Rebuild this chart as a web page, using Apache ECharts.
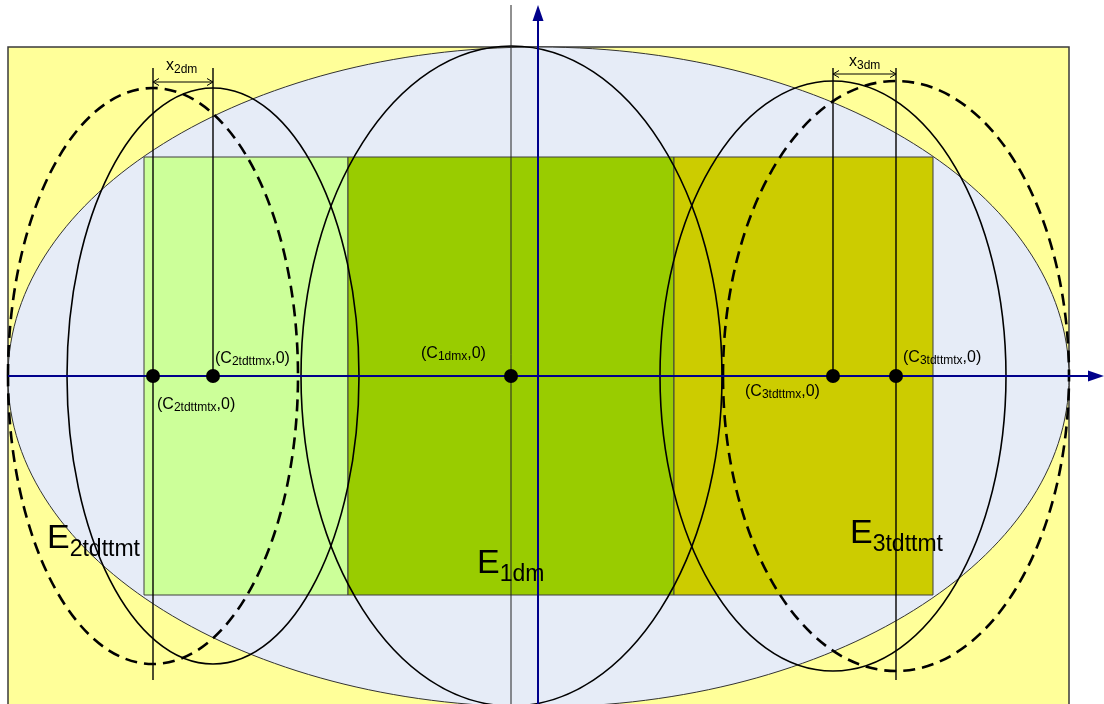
<!DOCTYPE html>
<html><head><meta charset="utf-8">
<script src="https://cdn.jsdelivr.net/npm/echarts/dist/echarts.min.js"></script>
<style>html,body{margin:0;padding:0;background:#fff}#c{width:1104px;height:704px}</style>
</head><body><div id="c"></div>
<script>
// ---- diagram data (drawing units: x to the right, y downward) ----
const frameRect = [[8, 47, 1069, 720]];
const regionRects = [[144, 157, 348, 595], [348, 157, 674, 595], [674, 157, 933, 595]];
const regionNames = ['E2 zone', 'E1dm zone', 'E3 zone'];
const outerEllipse = [[538.5, 377, 530.5, 330]];
const solidEllipses = [[511.5, 376, 210.5, 330], [213, 376, 146, 288], [833, 376, 173, 295]];
const dashedEllipses = [[153, 376, 145, 288], [896, 376, 173, 295]];
const centerPoints = [[153, 376], [213, 376], [511, 376], [833, 376], [896, 376]];
const guideLines = [[153, 68, 153, 680], [213, 68, 213, 376], [833, 68, 833, 376], [896, 68, 896, 680], [511, 5, 511, 704]];
const axisLines = [[8, 376, 1104, 376], [538, 704, 538, 5]];
const dimLines = [[153, 213, 82], [833, 896, 74]];
const dimLabels = [['x', '2dm'], ['x', '3dm']];
const dimLabelAnchors = [[166, 76], [849, 72]];
const pointLabels = [['(C', '2tdttmx', ',0)'], ['(C', '2tdttmtx', ',0)'], ['(C', '1dmx', ',0)'], ['(C', '3tdttmx', ',0)'], ['(C', '3tdttmtx', ',0)']];
const pointLabelAnchors = [[215, 368], [157, 414], [421, 363], [745, 401], [903, 367]];
const ellipseNames = [['E', '2tdttmt'], ['E', '1dm'], ['E', '3tdttmt']];
const ellipseNameAnchors = [[47, 561], [477, 586], [850, 556]];

// ---- styles ----
const FF = '"Liberation Sans", Arial, sans-serif';
const rectColors = ['#CCFF99', '#99CC00', '#CCCC00'];
const AXIS = '#00008B';

function ellipseRender(style) {
  return function (params, api) {
    const c = api.coord([api.value(0), api.value(1)]);
    const s = api.size([api.value(2), api.value(3)]);
    return { type: 'ellipse', shape: { cx: c[0], cy: c[1], rx: s[0], ry: s[1] }, style: style };
  };
}
function textRender(texts, rich, kind) {
  return function (params, api) {
    const p = api.coord([api.value(0), api.value(1)]);
    const t = texts[params.dataIndex];
    let str;
    if (kind === 'pt') str = '{m|' + t[0] + '}{s|' + t[1] + '}{m|' + t[2] + '}';
    else str = '{m|' + t[0] + '}{s|' + t[1] + '}';
    return { type: 'text', x: p[0], y: p[1], style: { text: str, rich: rich, align: 'left', verticalAlign: 'bottom', fill: '#000', font: '16px ' + FF } };
  };
}
const richPt = {
  m: { fontSize: 16, fontFamily: FF, fill: '#000', lineHeight: 18, verticalAlign: 'bottom', padding: [0, 0, 1, 0] },
  s: { fontSize: 12, fontFamily: FF, fill: '#000', lineHeight: 13, verticalAlign: 'bottom' }
};
const richDim = {
  m: { fontSize: 16, fontFamily: FF, fill: '#000', lineHeight: 18, verticalAlign: 'bottom', padding: [0, 0, 2, 0] },
  s: { fontSize: 12, fontFamily: FF, fill: '#000', lineHeight: 13, verticalAlign: 'bottom' }
};
const richBig = {
  m: { fontSize: 34, fontFamily: FF, fill: '#000', lineHeight: 36, verticalAlign: 'bottom', padding: [0, 0, 5, 0] },
  s: { fontSize: 23, fontFamily: FF, fill: '#000', lineHeight: 24, verticalAlign: 'bottom' }
};

const common = { type: 'custom', coordinateSystem: 'cartesian2d', silent: true, animation: false, clip: false };

const option = {
  backgroundColor: '#ffffff',
  animation: false,
  grid: { left: 0, right: 0, top: 0, bottom: 0 },
  xAxis: { type: 'value', min: 0, max: 1104, show: false },
  yAxis: { type: 'value', min: 0, max: 704, inverse: true, show: false },
  series: [
    Object.assign({}, common, { name: 'frame', z: 1, data: frameRect, encode: { x: [0, 2], y: [1, 3] },
      renderItem: function (params, api) {
        const a = api.coord([api.value(0), api.value(1)]);
        const b = api.coord([api.value(2), api.value(3)]);
        return { type: 'rect', shape: { x: a[0], y: a[1], width: b[0] - a[0], height: b[1] - a[1] },
          style: { fill: '#FFFF99', stroke: '#3a3a3a', lineWidth: 1.5 } };
      } }),
    Object.assign({}, common, { name: 'outer', z: 2, data: outerEllipse, encode: { x: 0, y: 1 },
      renderItem: ellipseRender({ fill: '#E6ECF7', stroke: '#333', lineWidth: 1 }) }),
    Object.assign({}, common, { name: 'regions', z: 3, data: regionRects, encode: { x: [0, 2], y: [1, 3] },
      renderItem: function (params, api) {
        const a = api.coord([api.value(0), api.value(1)]);
        const b = api.coord([api.value(2), api.value(3)]);
        return { type: 'rect', shape: { x: a[0], y: a[1], width: b[0] - a[0], height: b[1] - a[1] },
          style: { fill: rectColors[params.dataIndex], stroke: '#3f3f3f', lineWidth: 1 } };
      } }),
    Object.assign({}, common, { name: 'solid', z: 4, data: solidEllipses, encode: { x: 0, y: 1 },
      renderItem: ellipseRender({ fill: null, stroke: '#000', lineWidth: 1.6 }) }),
    Object.assign({}, common, { name: 'dashed', z: 4, data: dashedEllipses, encode: { x: 0, y: 1 },
      renderItem: ellipseRender({ fill: null, stroke: '#000', lineWidth: 2.6, lineDash: [12, 7] }) }),
    Object.assign({}, common, { name: 'guides', z: 5, data: guideLines, encode: { x: [0, 2], y: [1, 3] },
      renderItem: function (params, api) {
        const a = api.coord([api.value(0), api.value(1)]);
        const b = api.coord([api.value(2), api.value(3)]);
        const last = params.dataIndex === guideLines.length - 1;
        return { type: 'line', shape: { x1: a[0], y1: a[1], x2: b[0], y2: b[1] },
          style: { stroke: last ? '#222' : '#000', lineWidth: last ? 1 : 1.4 } };
      } }),
    Object.assign({}, common, { name: 'dims', z: 5, data: dimLines, encode: { x: [0, 1], y: 2 },
      renderItem: function (params, api) {
        const a = api.coord([api.value(0), api.value(2)]);
        const b = api.coord([api.value(1), api.value(2)]);
        const h = 6, w = 3.5;
        return { type: 'group', children: [
          { type: 'line', shape: { x1: a[0], y1: a[1], x2: b[0], y2: b[1] }, style: { stroke: '#000', lineWidth: 1 } },
          { type: 'polyline', shape: { points: [[a[0] + h, a[1] - w], [a[0], a[1]], [a[0] + h, a[1] + w]] }, style: { stroke: '#000', lineWidth: 1, fill: null } },
          { type: 'polyline', shape: { points: [[b[0] - h, b[1] - w], [b[0], b[1]], [b[0] - h, b[1] + w]] }, style: { stroke: '#000', lineWidth: 1, fill: null } }
        ] };
      } }),
    Object.assign({}, common, { name: 'axes', z: 6, data: axisLines, encode: { x: [0, 2], y: [1, 3] },
      renderItem: function (params, api) {
        const a = api.coord([api.value(0), api.value(1)]);
        const b = api.coord([api.value(2), api.value(3)]);
        const dx = b[0] - a[0], dy = b[1] - a[1];
        const L = Math.sqrt(dx * dx + dy * dy), ux = dx / L, uy = dy / L;
        const hl = 16, hw = 5.5;
        const bx = b[0] - ux * hl, by = b[1] - uy * hl;
        return { type: 'group', children: [
          { type: 'line', shape: { x1: a[0], y1: a[1], x2: bx, y2: by }, style: { stroke: AXIS, lineWidth: 2 } },
          { type: 'polygon', shape: { points: [[b[0], b[1]], [bx - uy * hw, by + ux * hw], [bx + uy * hw, by - ux * hw]] }, style: { fill: AXIS } }
        ] };
      } }),
    Object.assign({}, common, { name: 'points', z: 7, data: centerPoints, encode: { x: 0, y: 1 },
      renderItem: function (params, api) {
        const p = api.coord([api.value(0), api.value(1)]);
        return { type: 'circle', shape: { cx: p[0], cy: p[1], r: 7 }, style: { fill: '#000' } };
      } }),
    Object.assign({}, common, { name: 'pointLabels', z: 8, data: pointLabelAnchors, encode: { x: 0, y: 1 },
      renderItem: textRender(pointLabels, richPt, 'pt') }),
    Object.assign({}, common, { name: 'dimLabels', z: 8, data: dimLabelAnchors, encode: { x: 0, y: 1 },
      renderItem: textRender(dimLabels, richDim, 'dim') }),
    Object.assign({}, common, { name: 'ellipseNames', z: 8, data: ellipseNameAnchors, encode: { x: 0, y: 1 },
      renderItem: textRender(ellipseNames, richBig, 'big') })
  ]
};
const chart = echarts.init(document.getElementById('c'));
chart.setOption(option);
</script>
</body></html>
